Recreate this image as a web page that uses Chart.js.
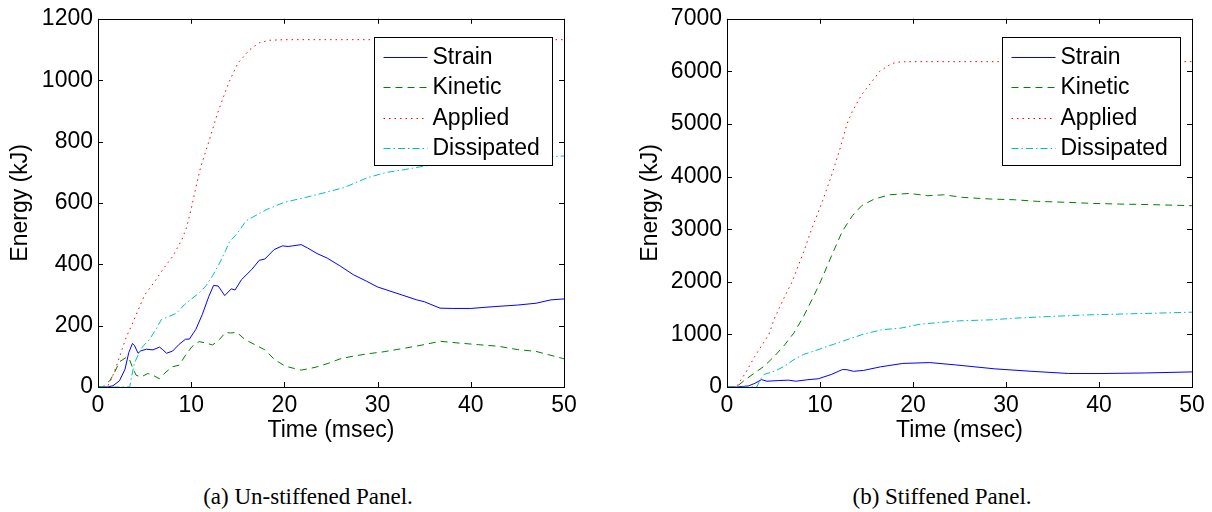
<!DOCTYPE html>
<html>
<head>
<meta charset="utf-8">
<script src="https://cdn.jsdelivr.net/npm/chart.js@4/dist/chart.umd.min.js"></script>
<style>
  body { margin: 0; background: #fff; width: 1212px; height: 512px; position: relative; overflow: hidden; }
  canvas { position: absolute; top: 0; }
  #panelA { left: 0; }
  #panelB { left: 630px; }
  .caption { position: absolute; top: 485px; width: 300px; text-align: center; font-family: "Liberation Serif", serif; font-size: 23px; line-height: 23px; color: #000; }
</style>
</head>
<body>
<canvas id="panelA" width="600" height="450" style="width:600px;height:450px"></canvas>
<canvas id="panelB" width="582" height="450" style="width:582px;height:450px"></canvas>
<div class="caption" style="left:158px">(a) Un-stiffened Panel.</div>
<div class="caption" style="left:792px">(b) Stiffened Panel.</div>
<script>
// [time (msec), energy (kJ)]
var seriesNames = ["Strain", "Kinetic", "Applied", "Dissipated"];

var strainA = [[0,0],[1,0],[1.6,4],[2.3,20],[2.9,58],[3.3,112],[3.7,142],[3.9,136],[4.3,110],[4.6,118],[5.2,123],[5.9,121],[6.6,130],[6.9,123],[7.35,110],[8,117],[8.7,139],[9.4,156],[9.8,156],[10.5,188],[11.2,237],[11.9,296],[12.4,331],[12.9,329],[13.6,298],[14.3,320],[14.7,316],[15.4,350],[16.5,383],[17.3,413],[17.9,417],[18.9,448],[19.8,460],[20.4,458],[20.9,460],[21.8,464],[22.5,453],[23.5,435],[24.6,420],[26,394],[27.4,366],[28.8,345],[30,326],[31,316],[32.6,300],[34.2,284],[35,278],[36.7,257],[38,256],[40,256],[42.5,262],[45,267],[47,273],[48.6,284],[50,287]];
var kineticA = [[0,0],[0.5,0],[1.3,22],[1.8,49],[2.3,82],[3.05,97],[3.4,88],[3.75,60],[4.1,38],[4.65,33],[5.35,44],[5.9,38],[6.6,27],[7.3,49],[8,66],[8.7,71],[9.4,104],[10.1,132],[10.85,148],[11.6,143],[12.3,137],[13,154],[13.7,178],[14.2,176],[14.9,178],[15.8,154],[16.9,137],[17.9,121],[19,88],[20.1,68],[21.1,60],[21.8,55],[23.3,64],[24.7,77],[26.1,93],[27.5,101],[28.9,108],[30.7,115],[33,127],[35,138],[36.7,149],[38.8,143],[40.8,138],[42.9,133],[45,122],[47,116],[50,92]];
var appliedA = [[0,0],[1,0],[1.5,30],[2,70],[2.5,115],[3,160],[3.6,200],[4.3,250],[5,300],[6,340],[7,385],[8,425],[9,480],[9.5,520],[10,580],[10.5,650],[11,715],[11.9,800],[12.8,890],[14,990],[15,1055],[16.3,1100],[17.3,1122],[18.4,1130],[20,1132],[50,1132]];
var dissipatedA = [[0,0],[3.4,0],[3.6,33],[3.9,77],[4.3,104],[4.8,132],[5.5,154],[6.2,187],[6.8,220],[7.7,231],[8.4,240],[9.3,269],[10,286],[10.9,308],[11.6,330],[12.3,363],[13,401],[13.7,445],[14.1,473],[14.9,499],[15.9,542],[18.2,580],[20,602],[22.3,618],[24.4,634],[26.4,650],[28.9,682],[30.9,699],[33,709],[35,720],[37.5,728],[40,736],[42.9,742],[46.2,747],[50,753]];

var strainB = [[0,0],[1,0],[2.3,20],[3,70],[3.7,140],[4.3,110],[5.5,122],[6.6,130],[7.4,110],[8.7,139],[9.8,156],[11.2,237],[12.4,331],[12.9,329],[13.6,298],[14.7,316],[16.5,383],[18.9,448],[21.8,464],[24.6,420],[28.8,345],[32.6,300],[36.7,257],[40,256],[45,267],[50,287]];
var kineticB = [[0,0],[1,0],[2,145],[3,270],[4,396],[5.1,585],[6.2,800],[7.2,1030],[8.2,1330],[9.3,1720],[10.1,2020],[11.4,2560],[12.4,2960],[13.5,3260],[14.5,3450],[15.8,3570],[17.5,3655],[19.6,3680],[21.6,3636],[23.3,3654],[25.4,3604],[28.4,3573],[30.9,3560],[33.4,3529],[36.7,3510],[39.2,3491],[42.2,3478],[45.9,3466],[50,3447]];
var appliedB = [[0,0],[1,0],[2,270],[3,585],[4.5,1000],[5.1,1300],[6.2,1720],[7,2000],[8.2,2550],[9.1,3000],[10.3,3550],[11.2,4000],[12.1,4500],[12.9,5000],[13.5,5250],[14.5,5560],[15.6,5810],[16.4,6000],[17.7,6150],[18.7,6183],[20,6185],[50,6185]];
var dissipatedB = [[0,0],[3.2,0],[3.6,150],[4,240],[5.1,300],[6.2,396],[7.2,522],[8.2,616],[9.3,680],[10.3,742],[12.4,868],[14.5,994],[16.6,1088],[18.7,1120],[20.8,1195],[22.9,1227],[25,1258],[28.4,1277],[30.9,1308],[34.6,1340],[38.8,1371],[43,1390],[45.9,1403],[50,1422]];

var lineColors = ["#0000ff", "#008000", "#ff0000", "#00bfbf"];
var lineDashes = [[], [7, 5], [1.5, 4], [7, 3, 1.5, 3]];

Chart.defaults.font.family = "'Liberation Sans', Arial, sans-serif";
Chart.defaults.font.size = 23;
Chart.defaults.color = "#000";

// matlab style box: frame, inward ticks on all sides, boxed legend in the corner
var matlabFrame = {
  id: "matlabFrame",
  afterDatasetsDraw: function (chart) {
    var ctx = chart.ctx, a = chart.chartArea;
    var xs = chart.scales.x, ys = chart.scales.y;
    ctx.save();
    ctx.strokeStyle = "#000";
    ctx.lineWidth = 1;
    ctx.setLineDash([]);
    ctx.beginPath();
    xs.ticks.forEach(function (t) {
      var px = Math.round(xs.getPixelForValue(t.value)) + 0.5;
      ctx.moveTo(px, a.bottom); ctx.lineTo(px, a.bottom - 5);
      ctx.moveTo(px, a.top); ctx.lineTo(px, a.top + 5);
    });
    ys.ticks.forEach(function (t) {
      var py = Math.round(ys.getPixelForValue(t.value)) + 0.5;
      ctx.moveTo(a.left, py); ctx.lineTo(a.left + 5, py);
      ctx.moveTo(a.right, py); ctx.lineTo(a.right - 5, py);
    });
    ctx.stroke();
    ctx.strokeRect(Math.round(a.left) + 0.5, Math.round(a.top) + 0.5, Math.round(a.right - a.left), Math.round(a.bottom - a.top));

    // legend
    var w = 178, h = 128;
    var lx = Math.round(a.right - 12 - w) + 0.5, ly = Math.round(a.top + 18) + 0.5;
    ctx.fillStyle = "#fff";
    ctx.fillRect(lx, ly, w, h);
    ctx.strokeRect(lx, ly, w, h);
    ctx.font = "23px 'Liberation Sans', Arial, sans-serif";
    ctx.textBaseline = "middle";
    ctx.textAlign = "left";
    chart.data.datasets.forEach(function (ds, i) {
      var ry = Math.round(ly + 19 + i * 30.5) + 0.5;
      ctx.strokeStyle = ds.borderColor;
      ctx.setLineDash(ds.borderDash);
      ctx.beginPath();
      ctx.moveTo(lx + 9, ry); ctx.lineTo(lx + 53, ry);
      ctx.stroke();
      ctx.fillStyle = "#000";
      ctx.fillText(ds.label, lx + 58, ry);
    });
    ctx.restore();
  }
};

function plainTick(v) { return String(v); }

function makePanel(id, series, yMax, yStep, yWidth, rightPad) {
  var datasets = series.map(function (pts, i) {
    return {
      label: seriesNames[i],
      data: pts.map(function (p) { return { x: p[0], y: p[1] }; }),
      borderColor: lineColors[i],
      borderDash: lineDashes[i],
      borderWidth: 1,
      pointRadius: 0,
      fill: false,
      tension: 0,
      order: 4 - i
    };
  });
  return new Chart(document.getElementById(id).getContext("2d"), {
    type: "line",
    data: { datasets: datasets },
    options: {
      responsive: false,
      animation: false,
      devicePixelRatio: 1,
      layout: { padding: { top: 14, right: rightPad, left: 0, bottom: 0 } },
      plugins: { legend: { display: false }, tooltip: { enabled: false } },
      scales: {
        x: {
          type: "linear",
          min: 0,
          max: 50,
          grid: { display: false, drawTicks: false },
          border: { display: false },
          ticks: { stepSize: 10, padding: 5, maxRotation: 0, callback: plainTick },
          title: { display: true, text: "Time (msec)", padding: { top: 0, bottom: 6 } },
          afterFit: function (s) { s.height = 63; }
        },
        y: {
          min: 0,
          max: yMax,
          grid: { display: false, drawTicks: false },
          border: { display: false },
          ticks: { stepSize: yStep, padding: 5, callback: plainTick },
          title: { display: true, text: "Energy (kJ)", padding: { top: 6.7, bottom: 0 } },
          afterFit: function (s) { s.width = yWidth; }
        }
      }
    },
    plugins: [matlabFrame]
  });
}

makePanel("panelA", [strainA, kineticA, appliedA, dissipatedA], 1200, 200, 98, 36);
makePanel("panelB", [strainB, kineticB, appliedB, dissipatedB], 7000, 1000, 97, 20);
</script>
</body>
</html>
